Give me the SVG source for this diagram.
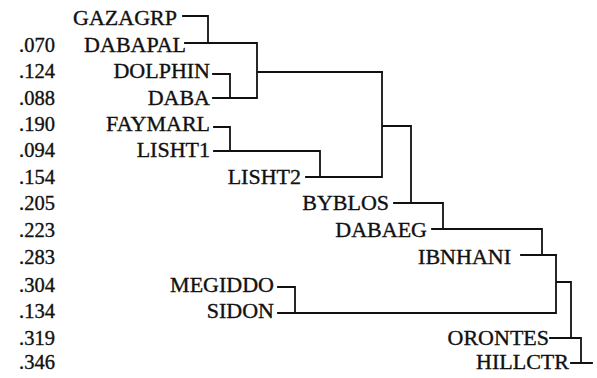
<svg xmlns="http://www.w3.org/2000/svg" width="597" height="378" viewBox="0 0 597 378">
<style>
text{font-family:"Liberation Serif","Times New Roman",serif;font-size:22px;fill:#111;stroke:#111;stroke-width:0.35}
.lab{text-anchor:end}
.num{text-anchor:start;font-size:20.5px}
.c{fill:none;stroke:#111;stroke-width:1.8;stroke-linecap:square;stroke-linejoin:miter}
</style>
<rect width="597" height="378" fill="#fff"/>
<g id="connectors">
<path class="c" d="M183 16H208V43M185 43H257M213 74H230V98M213 98H257M257 43V98M257 72H382"/>
<path class="c" d="M214 127H230V151M214 151H320V177M306 177H382M382 72V177M382 126H411V203"/>
<path class="c" d="M394 203H443V229M432 229H542V255M521 255H556"/>
<path class="c" d="M278 287H295V313M278 313H556M556 255V313M556 282H571V338M550 338H581V363M571 363H592"/>
</g>
<g id="GAZAGRP"><text class="lab" x="177" y="25">GAZAGRP</text></g>
<g id="DABAPAL"><text class="num" x="19" y="51.5">.070</text><text class="lab" x="186" y="51.5">DABAPAL</text></g>
<g id="DOLPHIN"><text class="num" x="19" y="78">.124</text><text class="lab" x="210" y="78">DOLPHIN</text></g>
<g id="DABA"><text class="num" x="19" y="104.5">.088</text><text class="lab" x="210" y="104.5">DABA</text></g>
<g id="FAYMARL"><text class="num" x="19" y="131">.190</text><text class="lab" x="210" y="131">FAYMARL</text></g>
<g id="LISHT1"><text class="num" x="19" y="157">.094</text><text class="lab" x="210" y="157">LISHT1</text></g>
<g id="LISHT2"><text class="num" x="19" y="183.5">.154</text><text class="lab" x="301" y="183.5">LISHT2</text></g>
<g id="BYBLOS"><text class="num" x="19" y="210">.205</text><text class="lab" x="389" y="210">BYBLOS</text></g>
<g id="DABAEG"><text class="num" x="19" y="237">.223</text><text class="lab" x="427" y="237">DABAEG</text></g>
<g id="IBNHANI"><text class="num" x="19" y="264">.283</text><text class="lab" x="511" y="264">IBNHANI</text></g>
<g id="MEGIDDO"><text class="num" x="19" y="291.5">.304</text><text class="lab" x="274" y="291.5">MEGIDDO</text></g>
<g id="SIDON"><text class="num" x="19" y="318">.134</text><text class="lab" x="274" y="318">SIDON</text></g>
<g id="ORONTES"><text class="num" x="19" y="345">.319</text><text class="lab" x="549" y="345">ORONTES</text></g>
<g id="HILLCTR"><text class="num" x="19" y="368.5">.346</text><text class="lab" x="569" y="368.5">HILLCTR</text></g>
</svg>
